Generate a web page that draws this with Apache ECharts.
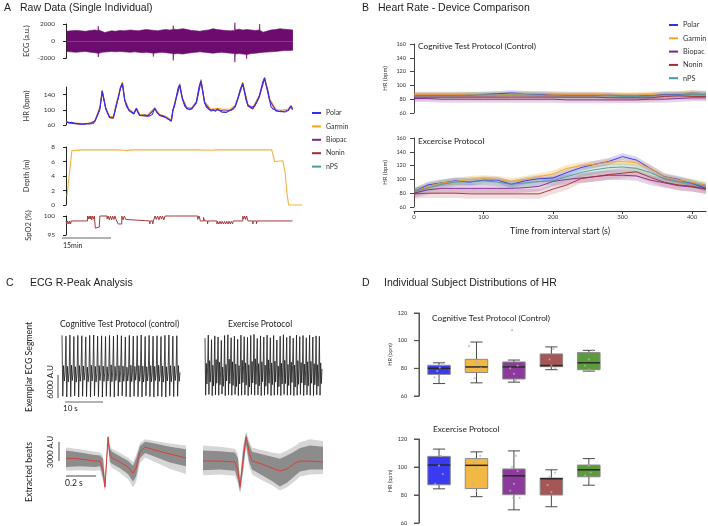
<!DOCTYPE html>
<html>
<head>
<meta charset="utf-8">
<title>HR device comparison</title>
<script src="https://cdn.jsdelivr.net/npm/echarts@6/dist/echarts.min.js"></script>
<style>
  html, body { margin: 0; padding: 0; background: #fff; }
  #main { width: 708px; height: 526px; }
</style>
</head>
<body>
<div id="main"></div>
<script>
var SANS = '"Liberation Sans", Arial, sans-serif';
var HUM = 'Lato, "Open Sans", sans-serif';

var devices = ['Polar', 'Garmin', 'Biopac', 'Nonin', 'nPS'];
var devColors = ['#2f2ff7', '#f5a425', '#7d248c', '#a12c2c', '#4b9a93'];
var bandColors = ['rgba(60,60,250,0.22)', 'rgba(245,170,40,0.28)', 'rgba(130,40,145,0.2)', 'rgba(165,50,50,0.16)', 'rgba(75,155,148,0.22)'];

// ---- A: raw data, time in minutes ----
var ecgUpper = [[0.2,1150],[1.5,1200],[3.0,1250],[4.5,1200],[6.0,1150],[7.5,1250],[8.8,1300],[9.8,1250],[9.9,1750],[10.0,1300],
  [11.0,1150],[11.9,1000],[12.8,1100],[14.0,1200],[15.2,1150],[16.5,1250],[17.8,1200],[18.6,1250],[19.8,1300],[21.0,1250],
  [22.3,1200],[23.5,1300],[24.7,1350],[25.9,1300],[27.0,1250],[28.2,1200],[29.4,1300],[30.6,1350],[31.8,1300],[32.8,1350],
  [32.9,1800],[33.0,1400],[34.2,1350],[35.9,1450],[37.2,1350],[38.5,1250],[39.8,1200],[41.1,1150],[42.4,1250],[43.7,1300],
  [45.1,1450],[46.4,1350],[47.7,1300],[49.0,1250],[50.5,1200],[51.7,1250],[51.8,2150],[51.9,1300],[53.0,1400],[54.3,1300],
  [55.4,1350],[56.8,1300],[58.2,1250],[59.3,1300],[59.4,2000],[59.5,1250],[60.5,1050],[61.5,1150],[62.8,1300],[64.2,1350],
  [65.6,1450],[66.9,1400],[68.2,1350],[69.6,1300]];
var ecgLower = [[0.2,-1200],[1.5,-1250],[3.0,-1300],[4.5,-1250],[6.0,-1200],[7.5,-1300],[8.8,-1350],[9.8,-1400],[9.9,-1850],[10.0,-1450],
  [11.0,-1300],[12.8,-1250],[14.0,-1200],[15.2,-1250],[16.5,-1200],[17.8,-1250],[19.8,-1300],[21.0,-1250],[22.3,-1300],[23.5,-1350],
  [24.7,-1300],[26.7,-1400],[26.8,-1800],[26.9,-1400],[28.2,-1350],[29.4,-1300],[30.6,-1350],[31.8,-1400],[32.8,-1450],[32.9,-2250],
  [33.0,-1500],[34.2,-1450],[35.9,-1500],[37.2,-1400],[38.5,-1350],[39.8,-1300],[41.1,-1250],[42.4,-1300],[43.7,-1350],[45.1,-1400],
  [46.4,-1350],[47.7,-1300],[49.0,-1350],[50.5,-1400],[51.7,-1450],[51.8,-2450],[51.9,-1500],[53.0,-1450],[54.3,-1500],[55.3,-1550],
  [55.4,-2050],[55.5,-1550],[56.8,-1450],[58.2,-1400],[59.4,-1350],[60.5,-1300],[62.8,-1250],[64.2,-1200],[65.6,-1150],[66.9,-1100],
  [68.2,-1100],[69.6,-1050]];

var hrTime = [
  0.0,0.3,1.0,1.7,2.4,3.3,4.0,4.8,5.6,6.3,
  7.0,7.6,8.4,8.9,9.4,9.9,10.4,10.8,11.1,11.6,
  12.2,12.9,13.4,14.0,14.5,15.0,15.3,16.0,16.7,17.3,
  18.0,18.6,19.3,20.1,20.8,21.6,22.1,22.6,23.4,24.2,
  25.0,25.7,26.5,27.2,27.8,28.7,29.5,30.2,30.8,31.3,
  31.8,32.3,32.8,33.3,33.8,34.4,34.9,35.4,35.7,36.4,
  37.1,37.9,38.6,39.3,40.0,40.4,40.8,41.4,42.0,42.5,
  43.0,43.7,44.4,45.1,45.8,46.4,47.1,47.8,48.4,49.1,
  49.8,50.5,51.2,51.9,52.7,53.4,54.2,54.7,55.2,55.8,
  56.3,56.9,57.3,57.9,58.6,59.3,60.0,60.3,60.9,61.4,
  61.9,62.4,62.9,63.5,64.4,65.2,66.0,66.7,67.5,68.2,
  69.0,69.5];
var hrPolar = [
  69,66,65,67,65,64,63,62,63,64,
  63,66,64,71,82,92,104,128,150,149,
  104,88,80,82,79,96,108,130,158,170,
  127,108,100,94,90,104,92,86,85,86,
  84,84,88,104,94,86,84,82,80,76,
  72,71,100,110,132,158,166,142,130,110,
  104,100,104,112,120,140,160,177,146,120,
  108,102,99,101,96,102,98,94,99,93,
  96,100,101,110,128,152,170,150,126,112,
  108,106,104,110,122,136,160,172,184,166,
  152,128,108,102,99,96,97,94,95,100,
  110,101];
var hrGarmin = [[0,70],[1.5,66],[3.3,65],[5.6,63],[7.6,66],[8.9,72],[9.9,96],[10.4,108],[11.1,152],[11.6,151],
  [12.2,106],[13.4,82],[14.5,82],[15.3,112],[16.7,160],[17.3,173],[18.0,128],[19.3,102],[20.8,92],[21.6,105],
  [22.6,88],[25.0,86],[27.2,106],[28.7,88],[30.8,82],[32.3,73],[32.8,102],[33.8,134],[34.9,169],[35.7,132],
  [37.1,106],[38.6,106],[40.0,122],[41.4,180],[42.5,122],[44.4,101],[46.4,104],[48.4,101],[50.5,102],[51.9,112],
  [54.2,173],[55.8,114],[57.3,106],[59.3,138],[60.9,186],[62.4,130],[64.4,101],[66.0,99],[68.2,102],[69.0,112],[69.5,104]];
var hrBiopac = [[0,68],[1.5,65],[3.3,63],[5.6,62],[7.6,65],[8.9,70],[9.9,90],[10.4,102],[11.1,148],[11.6,147],
  [12.2,102],[13.4,79],[14.5,78],[15.3,106],[16.7,156],[17.3,168],[18.0,125],[19.3,98],[20.8,89],[21.6,102],
  [22.6,85],[25.0,83],[27.2,102],[28.7,85],[30.8,79],[32.3,70],[32.8,98],[33.8,130],[34.9,164],[35.7,128],
  [37.1,102],[38.6,102],[40.0,118],[41.4,175],[42.5,118],[44.4,97],[46.4,100],[48.4,97],[50.5,98],[51.9,108],
  [54.2,168],[55.8,110],[57.3,102],[59.3,134],[60.9,182],[62.4,126],[64.4,97],[66.0,95],[68.2,98],[69.0,108],[69.5,100]];

var depth = [[0.3,1.2],[1.8,7.5],[5,7.6],[15,7.6],[18,7.55],[19,7.5],[19.8,7.6],[30,7.6],[40,7.6],[45,7.55],
  [45.8,7.6],[55,7.6],[63.1,7.6],[64.0,6.0],[64.3,5.8],[64.6,6.1],[66.5,6.1],[67.2,4.5],[67.8,1.5],[68.3,0],[72.5,0]];

var spo2 = [[0,98.7],[0.3,97.9],[0.5,98.7],[0.9,97.9],[1.1,98.7],[1.4,97.9],[1.6,98.7],
  [6.6,100],[6.9,99.2],[7.1,100],[7.4,99.2],[7.6,100],[7.9,99],[8.1,100],[8.4,99.2],[8.7,100],
  [9.0,96.8],[9.6,97.1],[10.2,97.4],[10.4,100],
  [12.6,99.2],[12.9,100],[13.3,99],[13.6,100],[14.0,99],[14.3,100],[14.7,99.1],[15.0,100],[15.4,99],[15.6,98.7],
  [16.0,97.9],[17.1,100],[17.5,99],[17.9,100],[18.3,99.1],[18.7,98.7],
  [25.7,97.9],[25.9,98.7],[26.6,97.9],[26.8,98.7],
  [27.3,100],[27.7,99.1],[28.1,100],[28.5,99],[28.9,100],[29.3,99.2],[29.6,100],[30.0,99],[30.4,100],
  [40.4,99.1],[40.8,100],[41.2,98.7],[42.2,99.6],[42.5,98.7],[43.4,97.9],[43.6,98.7],
  [46.3,97.9],[46.5,98.6],[46.9,97.9],[47.2,98.6],[47.6,97.9],[47.9,98.6],[48.3,97.9],[48.6,98.6],[49.0,97.9],[49.3,98.6],
  [49.7,97.9],[50.0,98.6],[50.4,97.9],[50.7,98.6],[51.1,97.9],[51.3,98.7],
  [54.2,100],[54.5,99.2],[54.8,100],[55.1,99.1],[55.4,100],[55.8,98.7],
  [57.3,97.9],[57.5,98.7],[58.4,97.9],[58.6,98.7],[69.5,98.7]];

// ---- B: HR per device, every 20 s ----
var bTime = [0,20,40,60,80,100,120,140,160,180,200,220,240,260,280,300,320,340,360,380,400,420];
var ctrlPolar  = [86,86,86,86,86,87,88,89,88,87,87,86,86,86,86,85,85,85,87,87,89,88];
var ctrlGarmin = [87,87,87,87,87,86,86,87,88,88,87,87,87,87,86,86,86,87,88,88,89,88];
var ctrlBiopac = [81,81,80,80,80,80,80,80,80,80,80,79,79,79,79,79,79,80,80,81,82,82];
var ctrlNonin  = [83,83,83,83,83,83,83,83,83,83,83,83,83,83,82,82,82,82,84,85,84,84];
var ctrlNps    = [85,85,85,85,86,86,86,86,86,86,85,85,85,85,85,84,84,85,86,86,87,87];
var exPolar  = [82,92,95,98,96,99,99,93,98,101,102,110,117,122,126,133,128,116,104,100,94,87];
var exGarmin = [82,90,95,97,100,101,100,97,100,104,108,116,120,122,125,126,124,116,104,99,96,91];
var exBiopac = [80,85,87,87,87,87,87,87,88,90,97,100,102,104,106,106,105,99,95,91,89,86];
var exNonin  = [79,80,80,80,79,79,79,79,79,79,86,92,101,104,107,109,111,103,96,92,90,86];
var exNps    = [82,88,93,96,97,98,96,93,95,97,98,104,110,114,117,118,116,110,101,97,94,90];
var ctrlSd = [4, 4, 5, 5, 4];
var exSd = [5, 5, 7, 7, 6];

// ---- C: ECG segments (A.U.), 5 samples per beat ----
var ecgCtrl = [
  10900,-5000,3000,-1000,1300, 10700,-5200,2800,-1200,1100, 11000,-5100,3100,-900,1400,
  10600,-4900,2700,-1300,1000, 10900,-5200,3000,-1100,1200, 10800,-5000,2900,-800,1500,
  10500,-5100,2600,-1200,1100, 10900,-5200,3100,-1000,1300, 11000,-4900,2800,-1300,1000,
  10700,-5100,3000,-900,1400, 10800,-5200,2900,-1100,1200, 10600,-5000,2700,-1000,1100,
  10900,-5100,3200,-1200,1300, 10700,-5200,2800,-900,1000, 11000,-5000,3000,-1300,1400,
  10800,-4900,2900,-1100,1200, 10500,-5100,2600,-1000,1100, 10900,-5200,3100,-1200,1300,
  10700,-5000,2800,-800,1500, 10800,-5100,3000,-1100,1000, 11000,-5200,2900,-1300,1200,
  10600,-4900,2700,-1000,1400, 10900,-5100,3000,-1200,1100, 10700,-5200,2800,-900,1300,
  10800,-5000,3100,-1100,1000, 10600,-5100,2900,-1300,1200, 10900,-5200,2700,-1000,1400,
  11000,-4900,3000,-1200,1100, 10700,-5100,2800,-900,1300, 10800,-5000,3000,-1100,1200];
var ecgEx = [
  10200,-5000,3500,-2000,2500, 11000,-4800,4200,-1500,1800, 9800,-5100,3000,-2500,2200,
  10800,-4900,4500,-1800,2800, 10500,-5000,3800,-2200,1500, 9600,-4700,2500,-2600,800,
  10900,-5100,3200,-1200,2600, 11100,-4900,4600,-1900,3000, 10300,-5000,3900,-2400,2000,
  10700,-4800,3300,-2700,1200, 9900,-5100,2900,-2000,2400, 11000,-5000,4300,-1600,2900,
  10600,-4900,3600,-2300,1700, 10400,-5100,3100,-2800,1000, 10900,-4800,4000,-1700,2500,
  11200,-5000,4700,-2100,3100, 10100,-4900,3400,-2500,1900, 10800,-5100,3900,-1400,2700,
  10500,-5000,3000,-2600,1300, 11000,-4800,4400,-1800,2400, 10300,-5100,3600,-2200,2000,
  10900,-5000,4100,-1500,2800, 9700,-4900,2800,-2700,1100, 10700,-5100,3500,-2000,2300,
  11100,-4800,4300,-1900,2600, 10400,-5000,3200,-2400,1500, 10800,-4900,3800,-1600,2900,
  10200,-5100,3000,-2800,1200, 11000,-5000,4200,-2100,2200, 10600,-4800,3700,-1700,2500,
  10900,-5100,3300,-2300,1800, 10300,-4900,3900,-2500,2100, 11000,-5000,4000,-1800,2600,
  10500,-5100,3400,-2200,1600, 10800,-4900,3100,-2600,1400, 10700,-5000,3600,-1900,2000];

// extracted beats: [s, A.U.] mean, [s, lo, hi] spread
var beatCtrlMean = [[0,320],[0.093,160],[0.193,-160],[0.227,-160],[0.247,-1580],[0.26,-4270],[0.28,3630],[0.293,790],[0.307,320],
  [0.36,-320],[0.413,-1100],[0.447,-2050],[0.467,-1260],[0.493,1260],[0.527,2050],[0.593,1580],[0.693,950],[0.8,320]];
var beatCtrlCore = [[0,-1100,1500],[0.093,-1000,1200],[0.193,-1100,800],[0.227,-1000,700],[0.247,-2800,200],[0.26,-4700,-3500],
  [0.28,2600,3900],[0.293,-300,1800],[0.307,-600,1300],[0.36,-1300,600],[0.413,-2200,-100],[0.447,-3400,-900],[0.467,-2600,200],
  [0.493,300,2200],[0.527,1100,2900],[0.593,500,2600],[0.693,-400,2100],[0.8,-1000,1700]];
var beatCtrlOuter = [[0,-1700,2000],[0.093,-1600,1700],[0.193,-1700,1300],[0.227,-1600,1200],[0.247,-3300,700],[0.26,-4900,-3000],
  [0.28,2200,4100],[0.293,-800,2300],[0.307,-1200,1800],[0.36,-2000,1100],[0.413,-3000,400],[0.447,-4300,-300],[0.467,-3500,800],
  [0.493,-500,2700],[0.527,400,3300],[0.593,-300,3000],[0.693,-1400,2600],[0.8,-2200,2300]];
var beatExMean = [[0,-160],[0.113,-160],[0.213,-320],[0.233,-1580],[0.247,-4270],[0.267,0],[0.287,3630],[0.307,1260],[0.327,-160],
  [0.393,-630],[0.46,-1260],[0.513,-1740],[0.56,-1420],[0.613,-470],[0.647,-160],[0.713,-160],[0.8,-320]];
var beatExCore = [[0,-1600,1500],[0.113,-1500,1400],[0.213,-1700,1200],[0.233,-3200,300],[0.247,-5000,-3400],[0.267,-1500,1500],
  [0.287,2500,4200],[0.307,-300,2500],[0.327,-1500,1300],[0.393,-2400,900],[0.46,-3300,500],[0.513,-4200,200],[0.56,-3600,700],
  [0.613,-2500,1400],[0.647,-1800,1900],[0.713,-1500,2300],[0.8,-1500,2100]];
var beatExOuter = [[0,-2400,2300],[0.113,-2300,2100],[0.213,-2500,1800],[0.233,-3800,1000],[0.247,-5300,-2800],[0.267,-2200,2200],
  [0.287,2000,4500],[0.307,-900,3100],[0.327,-2300,2000],[0.393,-3200,1600],[0.46,-4000,1200],[0.513,-4800,1000],[0.56,-4300,1500],
  [0.613,-3300,2200],[0.647,-2600,2800],[0.713,-2300,3300],[0.8,-2200,3000]];

// ---- D: per-subject HR box stats [min, q1, median, q3, max], subjects 1..5 ----
var boxColors = ['#3a3af2', '#f2b844', '#8c3b9c', '#a65656', '#5b9b3c'];
var ctrlBox = [[69,75.6,80,82.2,84],[69.5,77,81,86.5,99],[70,72.3,81,84.6,86],[79,81.2,82,90.4,95.5],[78,79,84,91.4,93]];
var exBox = [[84.4,87.3,101.4,107.6,112.8],[78.8,84.6,101.2,106,110.8],[69.4,80.2,93.7,98.6,111.5],[71.6,80,91.6,92.1,98],[87,93,98,101.4,106]];
var ctrlPts = [[1.02,80.5],[0.88,73.5],[1.1,82.5],[0.95,78],[1.8,96],[2.05,83],[2.12,80],[1.95,73],[2.0,84.5],
  [2.95,107.6],[3.0,76],[3.1,82],[2.9,80],[3.05,71],[4.05,94],[3.95,86.5],[4.0,82],[4.1,80],[5.0,86.5],[4.9,82],[5.1,93],[5.0,79]];
var exPts = [[1.05,108],[1.0,101],[0.9,88],[1.1,95],[2.1,108],[1.95,103],[2.0,99],[1.9,88],[2.0,83],
  [3.05,108],[2.95,100],[3.1,97],[3.0,88],[2.9,83],[3.15,78],[2.98,78],[4.1,96],[3.95,93],[3.9,87],[4.0,82],
  [5.0,101],[5.05,96],[4.9,94],[5.0,91]];
var dTicks = [60, 80, 100, 120];
// the HR axis sits just left of subject 1, at x = 0 of the slot scale
var SLOT_SHIFT = -0.465;

function txt(text, left, top, size, family) {
  return { text: text, left: left, top: top, padding: 0,
    textStyle: { fontSize: size, fontFamily: family, fontWeight: 'normal', color: '#222' } };
}

// filled polygon between lo and hi, placed through the axes
function bandSeries(gi, pts, color, z) {
  return {
    type: 'custom', xAxisIndex: gi, yAxisIndex: gi, silent: true, z: z,
    data: pts, encode: { x: 0, y: [1, 2] },
    renderItem: function (params, api) {
      if (params.dataIndex !== 0) return null;
      var up = [], lo = [];
      for (var i = 0; i < pts.length; i++) {
        up.push(api.coord([pts[i][0], pts[i][2]]));
        lo.push(api.coord([pts[i][0], pts[i][1]]));
      }
      return { type: 'polygon', shape: { points: up.concat(lo.reverse()) }, style: { fill: color } };
    }
  };
}

function lineSeries(name, gi, data, color, width, z) {
  return {
    name: name, type: 'line', xAxisIndex: gi, yAxisIndex: gi, data: data,
    showSymbol: false, clip: false, z: z || 3, animation: false,
    lineStyle: { color: color, width: width }, itemStyle: { color: color }
  };
}

// y rule with outward ticks for the box panels, drawn at x = 0
function ruleSeries(gi) {
  return {
    type: 'custom', xAxisIndex: gi, yAxisIndex: gi, silent: true, z: 5,
    data: dTicks.map(function (v) { return [0, v]; }),
    renderItem: function (params, api) {
      var p = api.coord([0, api.value(1)]);
      var kids = [{ type: 'line', shape: { x1: p[0] - 5, y1: p[1], x2: p[0], y2: p[1] }, style: { stroke: '#555', lineWidth: 1 } }];
      if (params.dataIndex === 0) {
        var top = api.coord([0, dTicks[dTicks.length - 1]]);
        kids.push({ type: 'line', shape: { x1: p[0], y1: p[1], x2: top[0], y2: top[1] }, style: { stroke: '#555', lineWidth: 1 } });
      }
      return { type: 'group', children: kids };
    }
  };
}

function boxSeries(gi, boxes) {
  return {
    type: 'custom', xAxisIndex: gi, yAxisIndex: gi, z: 2,
    data: boxes.map(function (b, i) { return [i + 1 + SLOT_SHIFT].concat(b); }),
    encode: { x: 0, y: [1, 2, 3, 4, 5] },
    renderItem: function (params, api) {
      var i = api.value(0);
      var w = api.size([1, 0])[0] * 0.6;
      var lo = api.coord([i, api.value(1)]), q1 = api.coord([i, api.value(2)]);
      var md = api.coord([i, api.value(3)]), q3 = api.coord([i, api.value(4)]);
      var hi = api.coord([i, api.value(5)]);
      var x = md[0], cap = w * 0.27;
      var wk = { stroke: '#4a4a4a', lineWidth: 1 };
      return { type: 'group', children: [
        { type: 'line', shape: { x1: x, y1: hi[1], x2: x, y2: q3[1] }, style: wk },
        { type: 'line', shape: { x1: x, y1: q1[1], x2: x, y2: lo[1] }, style: wk },
        { type: 'line', shape: { x1: x - cap, y1: hi[1], x2: x + cap, y2: hi[1] }, style: wk },
        { type: 'line', shape: { x1: x - cap, y1: lo[1], x2: x + cap, y2: lo[1] }, style: wk },
        { type: 'rect', shape: { x: x - w / 2, y: q3[1], width: w, height: q1[1] - q3[1] },
          style: { fill: boxColors[params.dataIndex], stroke: '#8a8a8a', lineWidth: 1 } },
        { type: 'line', shape: { x1: x - w / 2, y1: md[1], x2: x + w / 2, y2: md[1] }, style: { stroke: '#2a2a2a', lineWidth: 1.5 } }
      ] };
    }
  };
}

function axisLook(color, tickLen, labelSize, margin) {
  return {
    axisLine: { show: true, lineStyle: { color: color, width: 1 } },
    axisTick: { show: true, length: tickLen, lineStyle: { color: color, width: 1 } },
    axisLabel: { fontSize: labelSize, fontFamily: HUM, color: '#333', margin: margin,
      formatter: function (v) { return String(v); } },
    splitLine: { show: false }
  };
}

function yName(name, gap, size) {
  return { name: name, nameLocation: 'middle', nameGap: gap, nameRotate: 90,
    nameTextStyle: { fontSize: size, fontFamily: HUM, color: '#333' } };
}

var grids = [
  { left: 66, top: 24, width: 238, height: 34.3 },
  { left: 66, top: 87, width: 238, height: 38 },
  { left: 66, top: 147, width: 238, height: 58 },
  { left: 66, top: 216, width: 238, height: 19 },
  { left: 414, top: 44, width: 292, height: 69 },
  { left: 414, top: 138, width: 292, height: 69 },
  { left: 62, top: 335, width: 118, height: 62 },
  { left: 205, top: 334, width: 117, height: 62 },
  { left: 66, top: 436, width: 120, height: 52.5 },
  { left: 203, top: 436, width: 120, height: 52.5 },
  { left: 418.25, top: 313, width: 188, height: 83 },
  { left: 418.25, top: 439, width: 188, height: 84 }
].map(function (g) { g.containLabel = false; g.outerBoundsMode = 'none'; return g; });

var xAxes = [
  { gridIndex: 0, type: 'value', min: 0, max: 73, show: false },
  { gridIndex: 1, type: 'value', min: 0, max: 73, show: false },
  { gridIndex: 2, type: 'value', min: 0, max: 73, show: false },
  { gridIndex: 3, type: 'value', min: 0, max: 73, show: false },
  { gridIndex: 4, type: 'value', min: 0, max: 420, show: false },
  Object.assign({ gridIndex: 5, type: 'value', min: 0, max: 420, offset: 4, position: 'bottom',
    name: 'Time from interval start (s)', nameLocation: 'middle', nameGap: 16,
    nameTextStyle: { fontSize: 8.7, fontFamily: HUM, color: '#222' } }, axisLook('#333', 3, 6, 3)),
  { gridIndex: 6, type: 'value', min: 0, max: ecgCtrl.length - 1, show: false },
  { gridIndex: 7, type: 'value', min: 0, max: ecgEx.length - 1, show: false },
  { gridIndex: 8, type: 'value', min: 0, max: 0.8, show: false },
  { gridIndex: 9, type: 'value', min: 0, max: 0.8, show: false },
  { gridIndex: 10, type: 'value', min: -0.02, max: 5.0, show: false },
  { gridIndex: 11, type: 'value', min: -0.02, max: 5.0, show: false }
];
xAxes[5].axisLabel.customValues = [0, 100, 200, 300, 400];
xAxes[5].axisTick.customValues = [0, 100, 200, 300, 400];

var yAxes = [
  Object.assign({ gridIndex: 0, type: 'value', min: -2000, max: 2000, interval: 2000, offset: 9 }, axisLook('#222', 3, 6.5, 2), yName('ECG (a.u.)', 26, 7.5)),
  Object.assign({ gridIndex: 1, type: 'value', min: 60, max: 160, offset: 9 }, axisLook('#222', 3, 6.5, 2), yName('HR (bpm)', 26, 7.5)),
  Object.assign({ gridIndex: 2, type: 'value', min: 0, max: 8, interval: 2, offset: 9 }, axisLook('#222', 3, 6.5, 2), yName('Depth (m)', 26, 7.5)),
  Object.assign({ gridIndex: 3, type: 'value', min: 95, max: 100, interval: 5, offset: 9 }, axisLook('#222', 3, 6.5, 2), yName('SpO2 (%)', 24, 7.5)),
  Object.assign({ gridIndex: 4, type: 'value', min: 60, max: 160, interval: 20, offset: 5 }, axisLook('#444', 4, 5.5, 3), yName('HR (bpm)', 21, 6)),
  Object.assign({ gridIndex: 5, type: 'value', min: 60, max: 160, interval: 20, offset: 5 }, axisLook('#444', 4, 5.5, 3), yName('HR (bpm)', 21, 6)),
  { gridIndex: 6, type: 'value', min: -5200, max: 11000, show: false },
  { gridIndex: 7, type: 'value', min: -5200, max: 11300, show: false },
  { gridIndex: 8, type: 'value', min: -4500, max: 3800, show: false },
  { gridIndex: 9, type: 'value', min: -4500, max: 3800, show: false },
  Object.assign({ gridIndex: 10, type: 'value', min: 60, max: 120, interval: 20 }, axisLook('#555', 5, 5.5, 11), yName('HR (bpm)', 25, 5.5)),
  Object.assign({ gridIndex: 11, type: 'value', min: 60, max: 120, interval: 20 }, axisLook('#555', 5, 5.5, 11), yName('HR (bpm)', 25, 5.5))
];
yAxes[1].axisLabel.customValues = [60, 100, 140];
yAxes[1].axisTick.customValues = [60, 100, 140];

var series = [];

// A
var ecgPurple = '#6b0c6e';
series.push(Object.assign(lineSeries('ECG hi', 0, ecgUpper, ecgPurple, 0.6, 2), { areaStyle: { color: ecgPurple, opacity: 1 } }));
series.push(Object.assign(lineSeries('ECG lo', 0, ecgLower, ecgPurple, 0.6, 2), { areaStyle: { color: ecgPurple, opacity: 1 } }));
series.push(lineSeries('Garmin', 1, hrGarmin, devColors[1], 1.1, 3));
series.push(lineSeries('Biopac', 1, hrBiopac, devColors[2], 1.1, 4));
series.push(lineSeries('Polar', 1, hrTime.map(function (t, i) { return [t, hrPolar[i]]; }), devColors[0], 1.1, 5));
series.push(lineSeries('Depth', 2, depth, '#f2b343', 1.1, 3));
series.push(Object.assign(lineSeries('SpO2', 3, spo2, '#a33b3b', 1, 3), { step: 'end' }));

// B
var ctrlSets = [ctrlPolar, ctrlGarmin, ctrlBiopac, ctrlNonin, ctrlNps];
var exSets = [exPolar, exGarmin, exBiopac, exNonin, exNps];
[[4, ctrlSets, ctrlSd], [5, exSets, exSd]].forEach(function (p) {
  var gi = p[0], sets = p[1], sd = p[2];
  sets.forEach(function (m, k) {
    series.push(bandSeries(gi, bTime.map(function (t, i) { return [t, m[i] - sd[k], m[i] + sd[k]]; }), bandColors[k], 1));
  });
  sets.forEach(function (m, k) {
    series.push(lineSeries(devices[k], gi, bTime.map(function (t, i) { return [t, m[i]]; }), devColors[k], 0.9, 3));
  });
});

// C
series.push(lineSeries('ECG control', 6, ecgCtrl.map(function (v, i) { return [i, v]; }), '#1a1a1a', 0.8, 3));
series.push(lineSeries('ECG exercise', 7, ecgEx.map(function (v, i) { return [i, v]; }), '#1a1a1a', 0.8, 3));
series.push(bandSeries(8, beatCtrlOuter, '#d6d6d6', 1));
series.push(bandSeries(8, beatCtrlCore, '#8c8c8c', 2));
series.push(lineSeries('Beat mean control', 8, beatCtrlMean, '#d8403a', 1, 3));
series.push(bandSeries(9, beatExOuter, '#d6d6d6', 1));
series.push(bandSeries(9, beatExCore, '#8c8c8c', 2));
series.push(lineSeries('Beat mean exercise', 9, beatExMean, '#d8403a', 1, 3));

// D
[[10, ctrlBox, ctrlPts], [11, exBox, exPts]].forEach(function (p) {
  series.push(boxSeries(p[0], p[1]));
  series.push(ruleSeries(p[0]));
  series.push({ type: 'scatter', xAxisIndex: p[0], yAxisIndex: p[0], z: 4,
    data: p[2].map(function (d) { return [d[0] + SLOT_SHIFT, d[1]]; }),
    symbolSize: 2.2, itemStyle: { color: 'rgba(185,175,180,0.95)' }, silent: true });
});

var barStyle = { stroke: '#666', lineWidth: 1.2 };
function gText(text, x, y, size, rotate, align) {
  return { type: 'text', x: x, y: y, rotation: rotate ? Math.PI / 2 : 0,
    style: { text: text, fontSize: size, fontFamily: HUM, fill: '#222', align: align || 'center', verticalAlign: 'middle' } };
}

var option = {
  animation: false,
  backgroundColor: '#fff',
  color: devColors,
  textStyle: { fontFamily: HUM },
  title: [
    txt('A', 4, 3, 10.5, SANS),
    txt('Raw Data (Single Individual)', 20, 3, 10.5, SANS),
    txt('B', 362, 3, 10.5, SANS),
    txt('Heart Rate - Device Comparison', 378, 3, 10.5, SANS),
    txt('C', 6, 278, 10.5, SANS),
    txt('ECG R-Peak Analysis', 30, 278, 10.5, SANS),
    txt('D', 362, 278, 10.5, SANS),
    txt('Individual Subject Distributions of HR', 384, 278, 10.5, SANS),
    txt('Cognitive Test Protocol (Control)', 418, 42, 8.3, HUM),
    txt('Excercise Protocol', 418, 137, 8.3, HUM),
    txt('Cognitive Test Protocol (control)', 60, 320, 8.5, HUM),
    txt('Exercise Protocol', 228, 320, 8.5, HUM),
    txt('Cognitive Test Protocol (Control)', 432, 314, 8.3, HUM),
    txt('Excercise Protocol', 433, 425, 8.3, HUM)
  ],
  legend: [
    { data: devices, orient: 'vertical', left: 312, top: 108.5, padding: 0, icon: 'rect',
      itemWidth: 9, itemHeight: 2, itemGap: 4.4, selectedMode: false,
      textStyle: { fontSize: 7, fontFamily: HUM, color: '#333', lineHeight: 9 } },
    { data: devices, orient: 'vertical', left: 669, top: 20.5, padding: 0, icon: 'rect',
      itemWidth: 9, itemHeight: 2, itemGap: 4.3, selectedMode: false,
      textStyle: { fontSize: 7.3, fontFamily: HUM, color: '#333', lineHeight: 9 } }
  ],
  grid: grids,
  xAxis: xAxes,
  yAxis: yAxes,
  graphic: [
    { type: 'line', shape: { x1: 62, y1: 238, x2: 111, y2: 238 }, style: barStyle },
    gText('15min', 63, 246, 7, false, 'left'),
    { type: 'line', shape: { x1: 58, y1: 375, x2: 58, y2: 398 }, style: barStyle },
    gText('6000 A.U', 50, 382, 8, true),
    { type: 'line', shape: { x1: 65, y1: 402, x2: 103, y2: 402 }, style: barStyle },
    gText('10 s', 63, 408, 8, false, 'left'),
    gText('Exemplar ECG Segment', 29, 367, 8.7, true),
    { type: 'line', shape: { x1: 59, y1: 442, x2: 59, y2: 461 }, style: barStyle },
    gText('3000 A.U', 51, 452, 7.6, true),
    { type: 'line', shape: { x1: 66, y1: 476, x2: 96, y2: 476 }, style: barStyle },
    gText('0.2 s', 65, 483, 8.5, false, 'left'),
    gText('Extracted beats', 29, 472, 8.8, true)
  ],
  series: series
};

var chart = echarts.init(document.getElementById('main'), null, { renderer: 'canvas', width: 708, height: 526 });
chart.setOption(option);
</script>
</body>
</html>
